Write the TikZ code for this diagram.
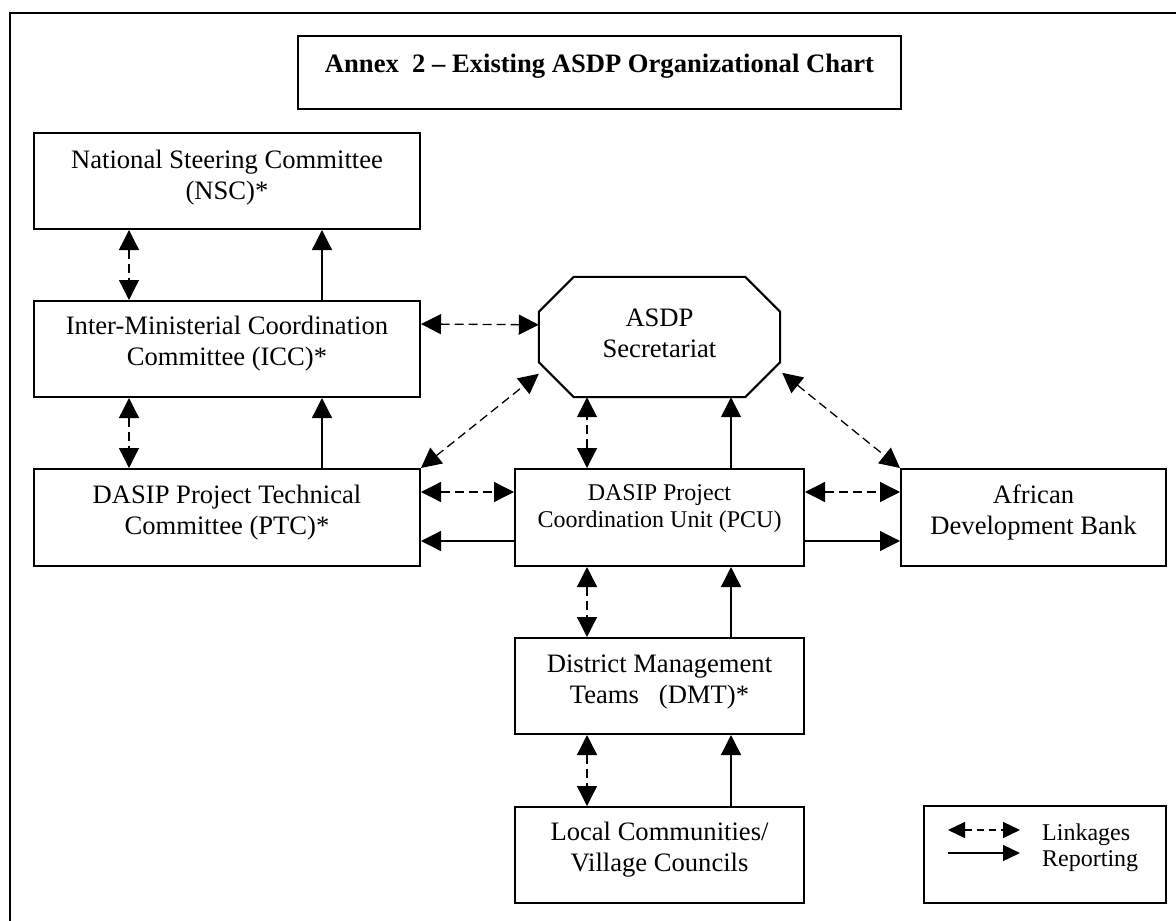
\documentclass[tikz,border=0pt]{standalone}
\usepackage{fontspec}
\setmainfont{Liberation Serif}
\usetikzlibrary{arrows.meta}
\tikzset{
  box/.style={draw, line width=2pt, rectangle, inner sep=0pt},
  txt/.style={align=center, font=\fontsize{26.6}{31}\selectfont, inner sep=0pt},
  smalltxt/.style={align=center, font=\fontsize{24}{27}\selectfont, inner sep=0pt},
  link/.style={line width=1.3pt, dash pattern=on 9pt off 5pt, {Triangle[length=20pt,width=20pt]}-{Triangle[length=20pt,width=20pt]}},
  report/.style={line width=1.3pt, -{Triangle[length=20pt,width=20pt]}},
  leglink/.style={line width=1.3pt, dash pattern=on 7pt off 5pt, {Triangle[length=17pt,width=16pt]}-{Triangle[length=17pt,width=16pt]}},
  legreport/.style={line width=1.3pt, -{Triangle[length=17pt,width=16pt]}},
}
\begin{document}
\begin{tikzpicture}[x=1pt,y=-1pt]
\useasboundingbox (0,0) rectangle (1176,921);
% outer frame (clipped at right and bottom)
\draw[line width=2pt] (1176,13) -- (10,13) -- (10,921);

% boxes
\node[box, minimum width=603pt, minimum height=73pt] (title) at (599.5,72.5) {};
\node[txt, font=\fontsize{26.6}{31}\selectfont\bfseries] (titlet) at (599.5,66) {Annex\ \ 2 -- Existing ASDP Organizational Chart};

\node[box, minimum width=386pt, minimum height=96pt] (nsc) at (227,181) {};
\node[txt] (nsct) at (227,177.5) {National Steering Committee\\(NSC)*};

\node[box, minimum width=386pt, minimum height=96pt] (icc) at (227,349) {};
\node[txt] (icct) at (227,344) {Inter-Ministerial Coordination\\Committee (ICC)*};

\node[box, minimum width=386pt, minimum height=97pt] (ptc) at (227,517.5) {};
\node[txt] (ptct) at (227,512.5) {DASIP Project Technical\\Committee (PTC)*};

\node[minimum width=241pt, minimum height=120pt, inner sep=0pt] (asdp) at (659.5,337) {};
\draw[line width=2pt] ([xshift=35pt]asdp.north west) -- ([xshift=-35pt]asdp.north east)
  -- ([yshift=-35pt]asdp.north east) -- ([yshift=35pt]asdp.south east)
  -- ([xshift=-35pt]asdp.south east) -- ([xshift=35pt]asdp.south west)
  -- ([yshift=35pt]asdp.south west) -- ([yshift=-35pt]asdp.north west) -- cycle;
\node[txt] (asdpt) at (659.5,333.5) {ASDP\\Secretariat};

\node[box, minimum width=289pt, minimum height=97pt] (pcu) at (659.5,517.5) {};
\node[smalltxt] (pcut) at (659.5,508.5) {DASIP Project\\Coordination Unit (PCU)};

\node[box, minimum width=265pt, minimum height=97pt] (adb) at (1033.5,517.5) {};
\node[txt] (adbt) at (1033.5,512.5) {African\\Development Bank};

\node[box, minimum width=289pt, minimum height=96pt] (dmt) at (659.5,686) {};
\node[txt] (dmtt) at (659.5,682.5) {District Management\\Teams\ \ \ (DMT)*};

\node[box, minimum width=289pt, minimum height=96pt] (lc) at (659.5,855) {};
\node[txt] (lct) at (659.5,850) {Local Communities/\\Village Councils};

% connectors
\draw[link] ([xshift=96pt]nsc.south west) -- ([xshift=96pt]icc.north west);
\draw[report] ([xshift=289pt]icc.north west) -- ([xshift=289pt]nsc.south west);
\draw[link] ([xshift=96pt]icc.south west) -- ([xshift=96pt]ptc.north west);
\draw[report] ([xshift=289pt]ptc.north west) -- ([xshift=289pt]icc.south west);

\draw[link] ([yshift=-24pt]icc.north east) -- ([yshift=-48pt]asdp.north west);
\coordinate (asdpll) at ([yshift=-97pt]asdp.north west);
\draw[link] (ptc.north east) -- (asdpll);
\coordinate (asdplr) at ([xshift=2pt,yshift=-96pt]asdp.north east);
\draw[link] (asdplr) -- (adb.north west);

\draw[link] ([xshift=73pt]pcu.north west) -- ([xshift=73pt]pcu.north west |- asdp.south);
\draw[report] ([xshift=217pt]pcu.north west) -- ([xshift=217pt]pcu.north west |- asdp.south);

\draw[link] ([yshift=-24pt]ptc.north east) -- ([yshift=-24pt]pcu.north west);
\draw[report] ([yshift=-73pt]pcu.north west) -- ([yshift=-73pt]ptc.north east);
\draw[link] ([yshift=-24pt]pcu.north east) -- ([yshift=-24pt]adb.north west);
\draw[report] ([yshift=-73pt]pcu.north east) -- ([yshift=-73pt]adb.north west);

\draw[link] ([xshift=73pt]pcu.south west) -- ([xshift=73pt]dmt.north west);
\draw[report] ([xshift=217pt]dmt.north west) -- ([xshift=217pt]pcu.south west);
\draw[link] ([xshift=73pt]dmt.south west) -- ([xshift=73pt]lc.north west);
\draw[report] ([xshift=217pt]lc.north west) -- ([xshift=217pt]dmt.south west);

% legend
\node[box, minimum width=242pt, minimum height=97pt] (legend) at (1045,854.5) {};
\coordinate (l1a) at ([xshift=25pt,yshift=-25pt]legend.north west);
\coordinate (l1b) at ([xshift=97pt,yshift=-25pt]legend.north west);
\coordinate (l2a) at ([xshift=25pt,yshift=-48pt]legend.north west);
\coordinate (l2b) at ([xshift=97pt,yshift=-48pt]legend.north west);
\draw[leglink] (l1a) -- (l1b);
\draw[legreport] (l2a) -- (l2b);
\node[smalltxt, anchor=base west] (legl) at (1042,840) {Linkages};
\node[smalltxt, anchor=base west] (legr) at (1042,866) {Reporting};
\end{tikzpicture}
\end{document}
